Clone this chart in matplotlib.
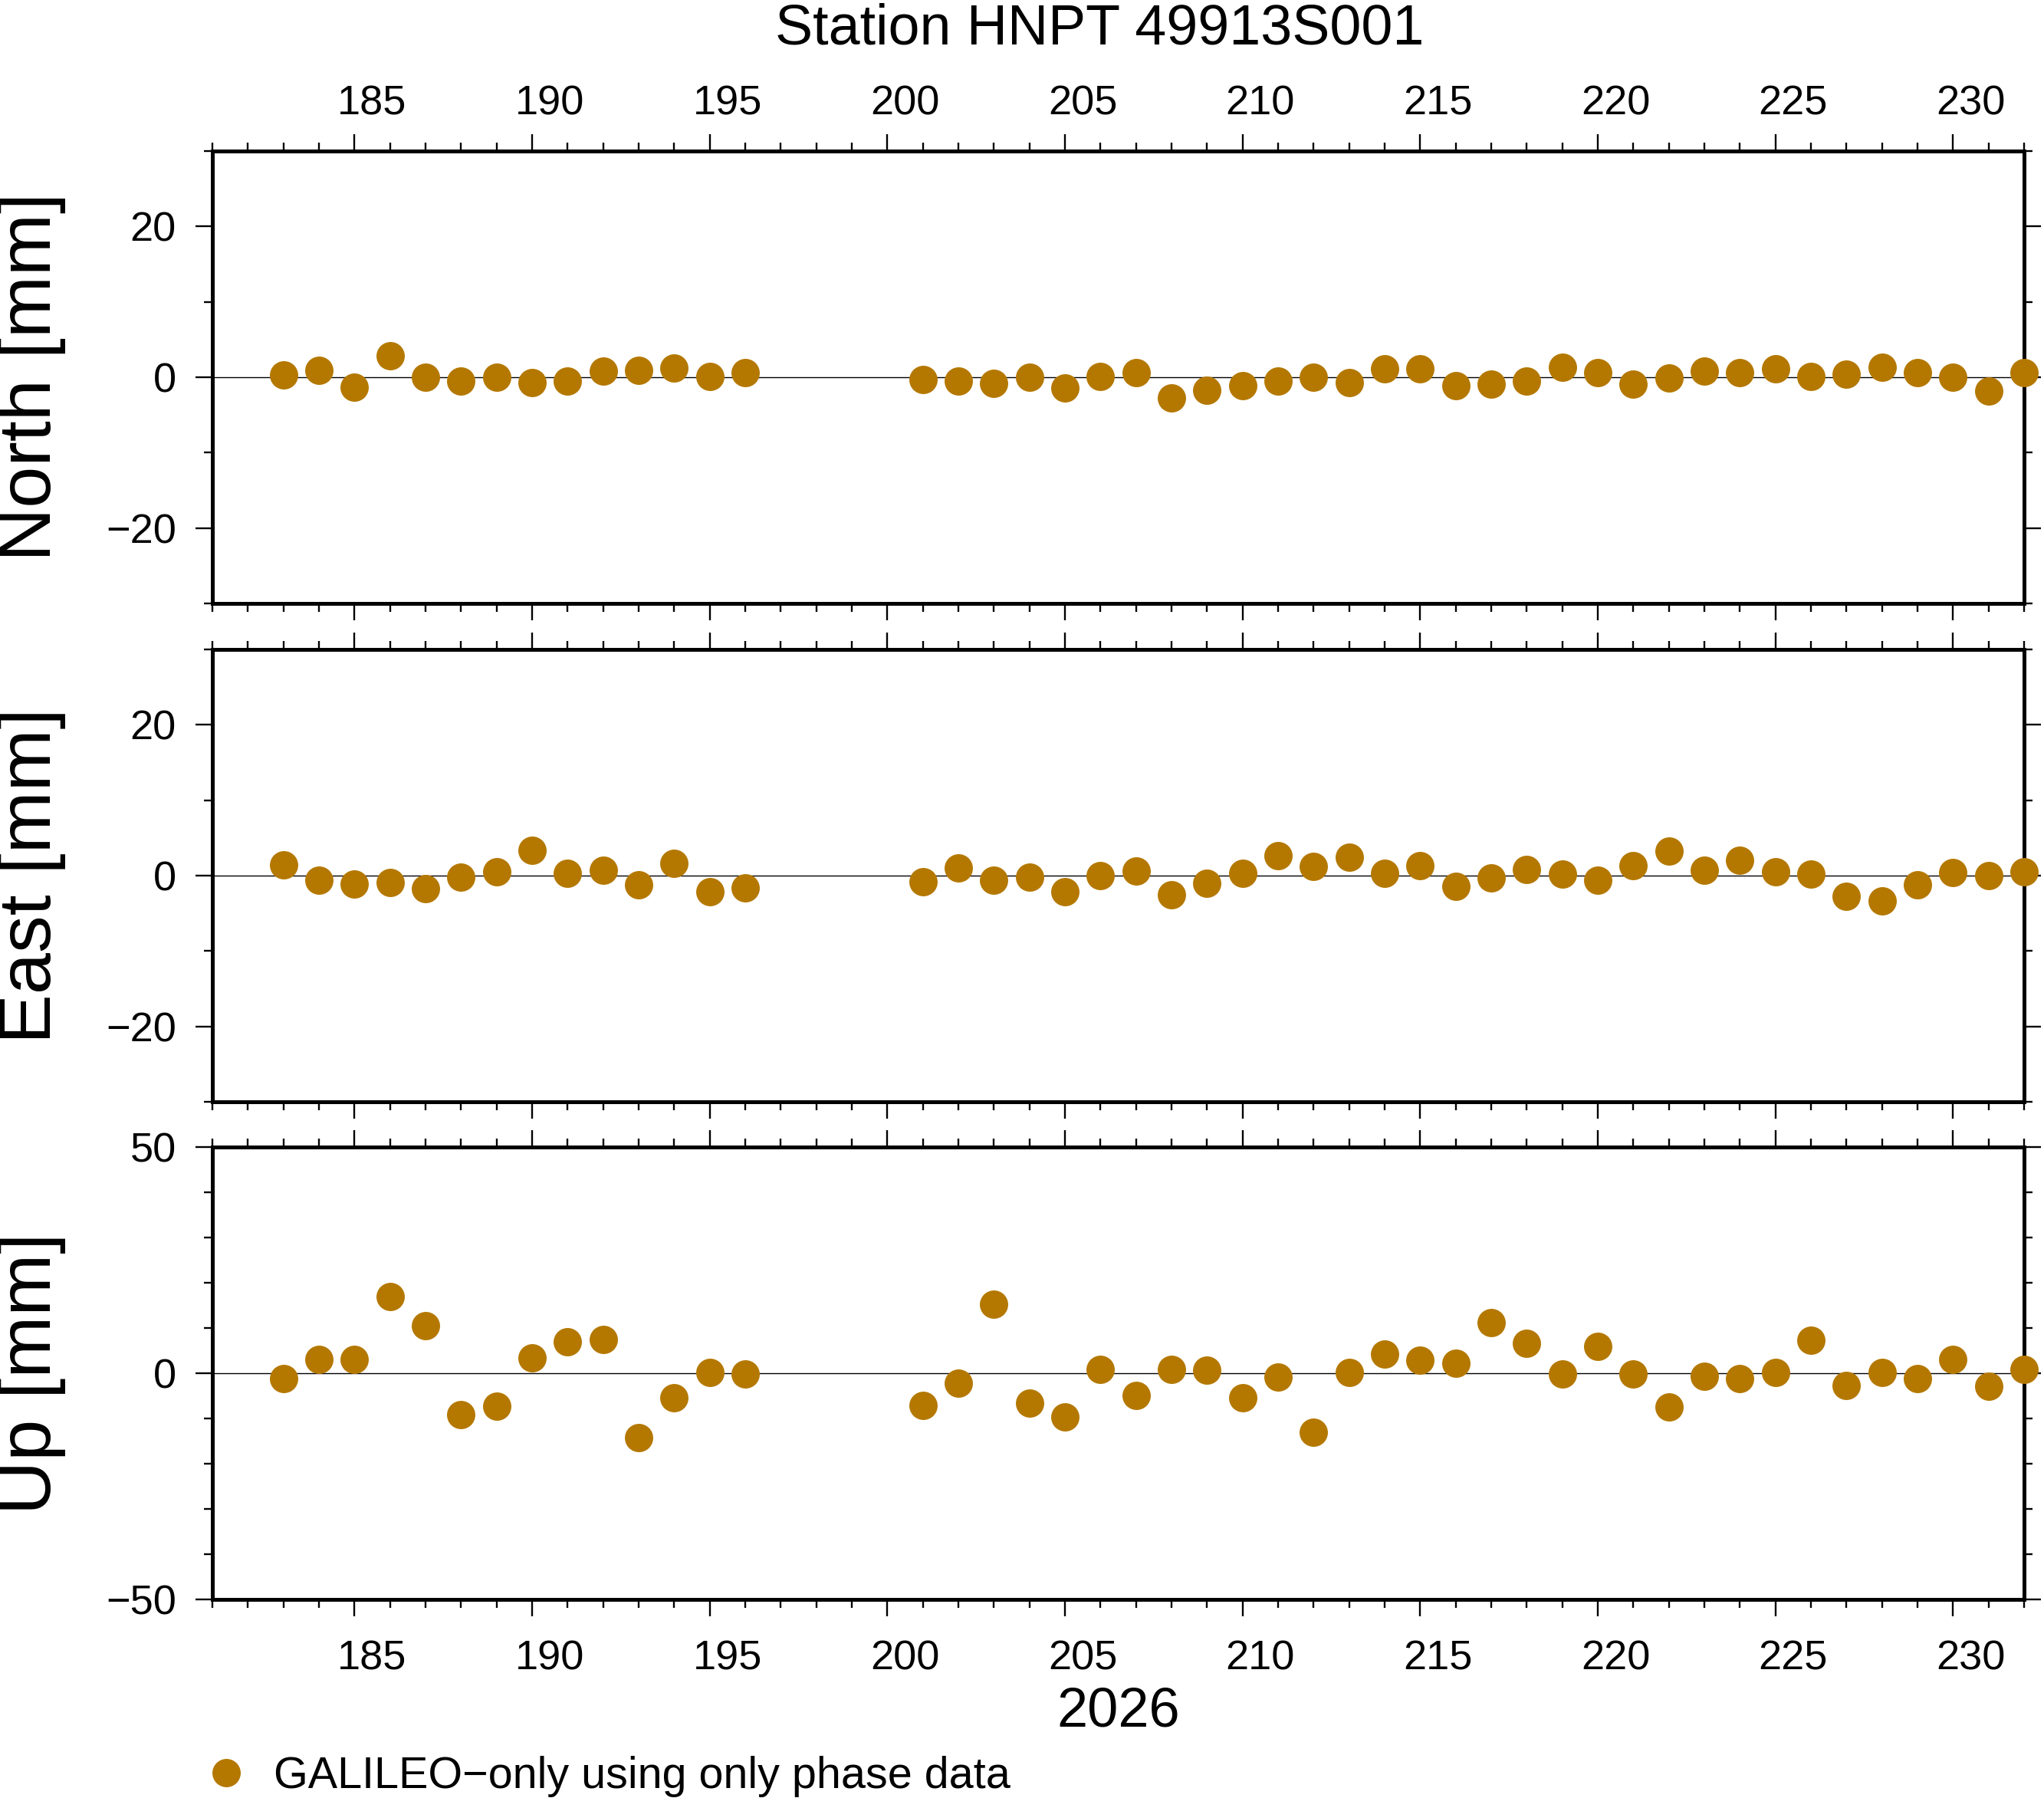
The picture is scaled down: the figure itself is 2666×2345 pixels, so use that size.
#!/usr/bin/env python3

# GNSS daily position residuals, GALILEO-only phase solution, station HNPT.

import matplotlib
matplotlib.use("Agg")
import matplotlib.pyplot as plt
from matplotlib.ticker import MultipleLocator

# ---------------------------------------------------------------------------
# Data
# ---------------------------------------------------------------------------

title = "Station HNPT 49913S001"
year_label = "2026"
legend_label = "GALILEO\u2212only using only phase data"

doy = [183, 184, 185, 186, 187, 188, 189, 190, 191, 192, 193, 194, 195, 196,
       201, 202, 203, 204, 205, 206, 207, 208, 209, 210, 211, 212, 213, 214,
       215, 216, 217, 218, 219, 220, 221, 222, 223, 224, 225, 226, 227, 228,
       229, 230, 231, 232]

north = [0.34, 0.88, -1.35, 2.80, -0.05, -0.46, -0.05, -0.74, -0.54, 0.78,
         0.88, 1.18, 0.07, 0.58,
         -0.34, -0.46, -0.85, -0.05, -1.47, 0.07, 0.63, -2.71, -1.69, -1.07,
         -0.46, -0.05, -0.76, 1.07, 1.07, -1.07, -0.96, -0.46, 1.37, 0.66,
         -0.96, -0.15, 0.86, 0.56, 1.07, 0.15, 0.36, 1.37, 0.56, -0.05,
         -1.78, 0.66]

east = [1.47, -0.64, -1.13, -0.95, -1.76, -0.24, 0.47, 3.32, 0.27, 0.68,
        -1.25, 1.59, -2.17, -1.66,
        -0.85, 0.98, -0.56, -0.24, -2.17, -0.03, 0.58, -2.57, -1.05, 0.27,
        2.61, 1.17, 2.40, 0.27, 1.37, -1.46, -0.34, 0.78, 0.17, -0.64,
        1.29, 3.21, 0.68, 2.00, 0.47, 0.17, -2.77, -3.38, -1.25, 0.37,
        -0.03, 0.47]

up = [-1.21, 3.07, 3.07, 16.90, 10.48, -9.13, -7.27, 3.38, 6.93, 7.44,
      -14.20, -5.41, 0.17, -0.17,
      -7.10, -2.20, 15.20, -6.59, -9.63, 0.85, -4.90, 0.85, 0.68, -5.41,
      -0.85, -13.00, 0.17, 4.23, 2.87, 2.20, 11.15, 6.59, -0.17, 5.92,
      -0.17, -7.44, -0.68, -1.18, 0.17, 7.27, -2.70, 0.17, -1.18, 3.04,
      -2.87, 0.85]

x_labels = [185, 190, 195, 200, 205, 210, 215, 220, 225, 230]

# panel name -> (values, half range, major step)
PANELS = [
    ("North [mm]", north, 30, 20),
    ("East [mm]",  east,  30, 20),
    ("Up [mm]",    up,    50, 50),
]

# ---------------------------------------------------------------------------
# Style
# ---------------------------------------------------------------------------

DPI = 200
FIG_W, FIG_H = 2666, 2345
DOT = "#b47800"
FONT = ["Liberation Sans", "DejaVu Sans"]

XLIM = (181, 232)
AX_LEFT, AX_RIGHT = 277, 2640
AX_TOPS = [197, 847, 1496]
AX_H = 590

plt.rcParams["font.family"] = FONT


def px_x(p):
    return p / FIG_W


def px_y(p):
    return 1 - p / FIG_H


# ---------------------------------------------------------------------------
# Drawing
# ---------------------------------------------------------------------------

def style_panel(ax, half, major):
    ax.set_xlim(*XLIM)
    ax.set_ylim(-half, half)
    ax.xaxis.set_major_locator(MultipleLocator(5))
    ax.xaxis.set_minor_locator(MultipleLocator(1))
    ax.yaxis.set_major_locator(MultipleLocator(major))
    ax.yaxis.set_minor_locator(MultipleLocator(10))
    ax.tick_params(which="both", direction="out", top=True, bottom=True,
                   left=True, right=True, labelbottom=False, labeltop=False,
                   labelright=False, width=0.85, color="black")
    ax.tick_params(which="major", length=8, labelsize=19.5, pad=9)
    ax.tick_params(which="minor", length=4)
    for s in ax.spines.values():
        s.set_linewidth(1.8)
    ax.axhline(0, color="black", lw=0.5, zorder=1)


def day_labels(ax, y, va):
    # labels sit in the middle of the day interval that starts at the tick
    for d in x_labels:
        ax.text(d + 0.5, y, str(d), transform=ax.get_xaxis_transform(),
                ha="center", va=va, fontsize=19.5)


def main():
    fig = plt.figure(figsize=(FIG_W / DPI, FIG_H / DPI), dpi=DPI)
    axes = []
    for top, (name, vals, half, major) in zip(AX_TOPS, PANELS):
        rect = [px_x(AX_LEFT), px_y(top + AX_H),
                px_x(AX_RIGHT - AX_LEFT), AX_H / FIG_H]
        ax = fig.add_axes(rect)
        ax.plot(doy, vals, "o", color=DOT, ms=13.3, mew=0,
                clip_on=False, zorder=3)
        style_panel(ax, half, major)
        ax.text(-0.1, 0.5, name, transform=ax.transAxes, rotation=90,
                ha="center", va="center", fontsize=35)
        axes.append(ax)

    day_labels(axes[0], 1 + 47 / AX_H, "baseline")
    day_labels(axes[-1], -91 / AX_H, "baseline")

    fig.text(1434 / FIG_W, px_y(57), title, ha="center", va="baseline",
             fontsize=26.5)
    fig.text(1459 / FIG_W, px_y(2252), year_label, ha="center",
             va="baseline", fontsize=26)

    # legend drawn by hand, like the GMT one
    fig.lines.append(plt.Line2D([px_x(295)], [px_y(2312)], marker="o",
                                color=DOT, ms=13.3, mew=0, ls="none",
                                transform=fig.transFigure))
    fig.text(px_x(357), px_y(2332), legend_label, ha="left",
             va="baseline", fontsize=20.7)

    fig.savefig("out.png", dpi=DPI)


if __name__ == "__main__":
    main()
